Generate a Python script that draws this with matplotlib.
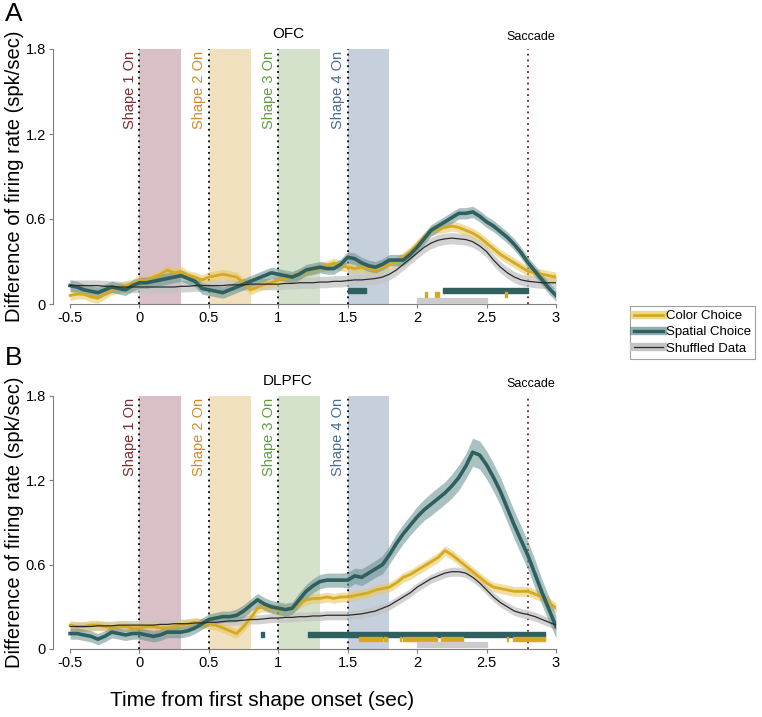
import numpy as np
import matplotlib
matplotlib.use('Agg')
import matplotlib.pyplot as plt
from matplotlib.lines import Line2D

plt.rcParams['font.family'] = ['Liberation Sans', 'DejaVu Sans']

# time axis (sec), 50 ms steps
t = np.round(np.arange(-0.5, 3.001, 0.05), 2)

# --- OFC (panel A) ---
ofc_color = [0.06, 0.07, 0.07, 0.05, 0.04, 0.07, 0.10, 0.11, 0.13, 0.14,
             0.17, 0.16, 0.19, 0.21, 0.24, 0.22, 0.23, 0.20, 0.19, 0.17,
             0.19, 0.20, 0.21, 0.20, 0.19, 0.15, 0.10, 0.12, 0.14, 0.15,
             0.17, 0.18, 0.19, 0.21, 0.23, 0.24, 0.26, 0.27, 0.29, 0.27,
             0.26, 0.25, 0.26, 0.25, 0.24, 0.26, 0.28, 0.30, 0.33, 0.37,
             0.42, 0.47, 0.52, 0.53, 0.54, 0.55, 0.54, 0.52, 0.50, 0.47,
             0.43, 0.39, 0.35, 0.32, 0.29, 0.26, 0.23, 0.22, 0.21, 0.20, 0.19]
ofc_spatial = [0.13, 0.12, 0.10, 0.09, 0.08, 0.10, 0.12, 0.11, 0.10, 0.13,
               0.15, 0.15, 0.16, 0.17, 0.18, 0.19, 0.20, 0.18, 0.16, 0.11,
               0.10, 0.09, 0.08, 0.10, 0.12, 0.14, 0.16, 0.18, 0.20, 0.22,
               0.21, 0.20, 0.19, 0.21, 0.24, 0.25, 0.26, 0.25, 0.25, 0.28,
               0.33, 0.32, 0.29, 0.27, 0.26, 0.28, 0.31, 0.31, 0.31, 0.35,
               0.40, 0.46, 0.52, 0.55, 0.58, 0.61, 0.64, 0.64, 0.65, 0.62,
               0.58, 0.55, 0.51, 0.47, 0.42, 0.36, 0.29, 0.23, 0.17, 0.11, 0.06]
ofc_shuffled = [0.13, 0.13, 0.13, 0.13, 0.13, 0.125, 0.125, 0.12, 0.12, 0.12,
                0.12, 0.12, 0.12, 0.12, 0.12, 0.12, 0.125, 0.125, 0.13, 0.13,
                0.13, 0.13, 0.13, 0.135, 0.135, 0.135, 0.14, 0.14, 0.14, 0.14,
                0.14, 0.145, 0.145, 0.15, 0.15, 0.15, 0.155, 0.155, 0.16, 0.16,
                0.165, 0.17, 0.17, 0.175, 0.18, 0.19, 0.21, 0.24, 0.28, 0.32,
                0.36, 0.40, 0.43, 0.45, 0.46, 0.465, 0.46, 0.455, 0.44, 0.41,
                0.37, 0.31, 0.26, 0.22, 0.19, 0.17, 0.16, 0.155, 0.15, 0.15, 0.15]

# --- DLPFC (panel B) ---
dl_color = [0.17, 0.16, 0.16, 0.17, 0.17, 0.16, 0.15, 0.16, 0.16, 0.15,
            0.15, 0.16, 0.16, 0.15, 0.15, 0.16, 0.17, 0.18, 0.19, 0.18,
            0.18, 0.17, 0.15, 0.13, 0.11, 0.16, 0.22, 0.29, 0.30, 0.29,
            0.28, 0.28, 0.29, 0.32, 0.35, 0.36, 0.36, 0.37, 0.36, 0.37,
            0.37, 0.38, 0.39, 0.40, 0.42, 0.43, 0.44, 0.47, 0.51, 0.53,
            0.56, 0.59, 0.62, 0.65, 0.70, 0.67, 0.63, 0.59, 0.55, 0.51,
            0.47, 0.44, 0.43, 0.42, 0.41, 0.41, 0.41, 0.39, 0.37, 0.33, 0.29]
dl_spatial = [0.11, 0.11, 0.10, 0.09, 0.07, 0.09, 0.12, 0.11, 0.10, 0.11,
              0.11, 0.10, 0.09, 0.10, 0.12, 0.12, 0.12, 0.13, 0.15, 0.18,
              0.21, 0.22, 0.23, 0.23, 0.24, 0.27, 0.31, 0.35, 0.32, 0.30,
              0.29, 0.28, 0.29, 0.35, 0.41, 0.45, 0.48, 0.49, 0.49, 0.49,
              0.49, 0.52, 0.51, 0.54, 0.57, 0.60, 0.67, 0.75, 0.82, 0.88,
              0.94, 0.99, 1.03, 1.07, 1.11, 1.16, 1.22, 1.30, 1.40, 1.38,
              1.31, 1.22, 1.12, 1.00, 0.88, 0.77, 0.66, 0.53, 0.40, 0.28, 0.16]
dl_shuffled = [0.16, 0.16, 0.16, 0.16, 0.165, 0.165, 0.165, 0.17, 0.17, 0.17,
               0.17, 0.17, 0.17, 0.175, 0.175, 0.18, 0.18, 0.18, 0.185, 0.185,
               0.19, 0.19, 0.195, 0.20, 0.20, 0.205, 0.21, 0.21, 0.215, 0.22,
               0.22, 0.225, 0.225, 0.23, 0.23, 0.235, 0.235, 0.24, 0.24, 0.24,
               0.24, 0.245, 0.25, 0.26, 0.27, 0.29, 0.31, 0.34, 0.37, 0.40,
               0.44, 0.47, 0.50, 0.52, 0.54, 0.55, 0.55, 0.54, 0.51, 0.47,
               0.42, 0.37, 0.33, 0.30, 0.27, 0.255, 0.245, 0.23, 0.21, 0.19, 0.17]
dl_spatial_sem = [0.04, 0.04, 0.04, 0.04, 0.04, 0.04, 0.04, 0.04, 0.04, 0.04,
                  0.04, 0.04, 0.04, 0.04, 0.04, 0.04, 0.04, 0.04, 0.04, 0.04,
                  0.04, 0.04, 0.04, 0.04, 0.045, 0.045, 0.045, 0.045, 0.045, 0.045,
                  0.045, 0.045, 0.045, 0.05, 0.05, 0.05, 0.05, 0.05, 0.05, 0.05,
                  0.055, 0.055, 0.06, 0.06, 0.06, 0.065, 0.065, 0.07, 0.07, 0.07,
                  0.075, 0.075, 0.08, 0.08, 0.08, 0.085, 0.09, 0.09, 0.1, 0.1,
                  0.1, 0.1, 0.1, 0.1, 0.1, 0.1, 0.1, 0.1, 0.09, 0.09, 0.08]

# significance bars: (start, width) in sec
ofc_sig_spatial = [(1.50, 0.13), (2.185, 0.615)]
ofc_sig_color = [(2.053, 0.02), (2.125, 0.033), (2.633, 0.015)]
dl_sig_spatial = [(0.873, 0.024), (1.215, 1.705)]
dl_sig_color = [(1.58, 0.17), (1.76, 0.02), (1.875, 0.01), (1.90, 0.245),
                (2.17, 0.16), (2.644, 0.011), (2.69, 0.23)]
sig_shuffled = [(2.0, 0.5)]

shape_onsets = [0, 0.5, 1.0, 1.5]
shape_labels = ['Shape 1 On', 'Shape 2 On', 'Shape 3 On', 'Shape 4 On']
shape_text_colors = ['#7a2e2e', '#d38a2a', '#5e9e3c', '#4b6b91']
shape_fill_colors = ['#d9c0c6', '#f0e0be', '#d5e2cb', '#c6d0dc']
saccade_time = 2.8

COLOR_C = '#d6a91f'
COLOR_C_BAND = '#e6c866'
COLOR_S = '#2f5f5e'
COLOR_S_BAND = '#648f8e'
COLOR_SH = '#2b2b2b'
COLOR_SH_BAND = '#c4c4c4'

fig = plt.figure(figsize=(7.62, 7.17), dpi=100)
ax_a = fig.add_axes([53 / 762, 1 - 304 / 717, 503 / 762, 255 / 717])
ax_b = fig.add_axes([53 / 762, 1 - 649 / 717, 503 / 762, 253 / 717])

panels = [
    (ax_a, 'OFC', ofc_color, 0.035, ofc_spatial, 0.04, ofc_shuffled, 0.04,
     ofc_sig_spatial, ofc_sig_color, (0.078, 0.035), (0.052, 0.033), (0.004, 0.038)),
    (ax_b, 'DLPFC', dl_color, 0.035, dl_spatial, np.array(dl_spatial_sem), dl_shuffled, 0.032,
     dl_sig_spatial, dl_sig_color, (0.085, 0.033), (0.057, 0.028), (0.014, 0.036)),
]

for (ax, name, col, col_sem, spa, spa_sem, shu, shu_sem,
     sig_s, sig_c, yr_s, yr_c, yr_sh) in panels:
    col = np.array(col)
    spa = np.array(spa)
    shu = np.array(shu)

    # shape presentation windows
    for on, lab, tc, fc in zip(shape_onsets, shape_labels, shape_text_colors, shape_fill_colors):
        ax.axvspan(on, on + 0.3, ymin=0, ymax=1, color=fc, lw=0, zorder=0)
        ax.axvline(on, color='black', ls=(0, (1, 2.2)), lw=1.3, zorder=1)
        ax.text(on - 0.07, 1.79, lab, rotation=90, ha='center', va='top',
                color=tc, fontsize=10.5)
    ax.axvline(saccade_time, color='#6b1f24', ls=(0, (1, 2.2)), lw=1.3, zorder=1)
    ax.text(saccade_time + 0.02, 1.84, 'Saccade', ha='center', va='bottom', fontsize=9)
    ax.text(1.07, 1.86, name, ha='center', va='bottom', fontsize=11)

    ax.fill_between(t, shu - shu_sem, shu + shu_sem, color=COLOR_SH_BAND, alpha=0.75, lw=0, zorder=2)
    ax.fill_between(t, col - col_sem, col + col_sem, color=COLOR_C_BAND, alpha=0.6, lw=0, zorder=3)
    ax.fill_between(t, spa - spa_sem, spa + spa_sem, color=COLOR_S_BAND, alpha=0.55, lw=0, zorder=4)
    ax.plot(t, col, color=COLOR_C, lw=2.0, zorder=5)
    ax.plot(t, spa, color=COLOR_S, lw=2.6, zorder=6)
    ax.plot(t, shu, color=COLOR_SH, lw=0.9, zorder=7)

    ax.broken_barh(sig_s, yr_s, color=COLOR_S, zorder=8)
    ax.broken_barh(sig_c, yr_c, color=COLOR_C, zorder=8)
    ax.broken_barh(sig_shuffled, yr_sh, color='#cccccc', zorder=8)

    ax.set_xlim(-0.623, 3.0)
    ax.set_ylim(0, 1.8)
    ax.set_xticks([-0.5, 0, 0.5, 1, 1.5, 2, 2.5, 3])
    ax.set_xticklabels(['-0.5', '0', '0.5', '1', '1.5', '2', '2.5', '3'])
    ax.set_yticks([0, 0.6, 1.2, 1.8])
    ax.set_yticklabels(['0', '0.6', '1.2', '1.8'])
    ax.tick_params(labelsize=10.5, length=3, width=0.8, color='#7f7f7f', pad=2)
    ax.spines['top'].set_visible(False)
    ax.spines['right'].set_visible(False)
    ax.spines['left'].set_color('#7f7f7f')
    ax.spines['bottom'].set_color('#7f7f7f')
    ax.spines['bottom'].set_bounds(-0.5, 3)
    ax.set_ylabel('Difference of firing rate (spk/sec)', fontsize=14.5, va='center')
    ax.yaxis.set_label_coords(-39 / 503, 0.5)
    ax.patch.set_alpha(0)

fig.text(5 / 762, 1 - 14 / 717, 'A', fontsize=19, va='center', ha='left')
fig.text(5 / 762, 1 - 358 / 717, 'B', fontsize=19, va='center', ha='left')
fig.text(262 / 762, 1 - 700 / 717, 'Time from first shape onset (sec)', fontsize=15,
         ha='center', va='center')

handles = [
    (Line2D([], [], color=COLOR_C_BAND, lw=6, alpha=0.7), Line2D([], [], color=COLOR_C, lw=2)),
    (Line2D([], [], color=COLOR_S_BAND, lw=6, alpha=0.7), Line2D([], [], color=COLOR_S, lw=2.4)),
    (Line2D([], [], color=COLOR_SH_BAND, lw=6), Line2D([], [], color=COLOR_SH, lw=0.9)),
]
leg = fig.legend(handles, ['Color Choice', 'Spatial Choice', 'Shuffled Data'],
                 loc='upper left', bbox_to_anchor=(630 / 762, 1 - 306 / 717),
                 fontsize=9.5, fancybox=False, handlelength=2.2, handletextpad=0.25,
                 borderpad=0.3, labelspacing=0.3, borderaxespad=0)
leg.get_frame().set_edgecolor('#888888')
leg.get_frame().set_linewidth(0.8)

plt.savefig('out.png', dpi=100)
